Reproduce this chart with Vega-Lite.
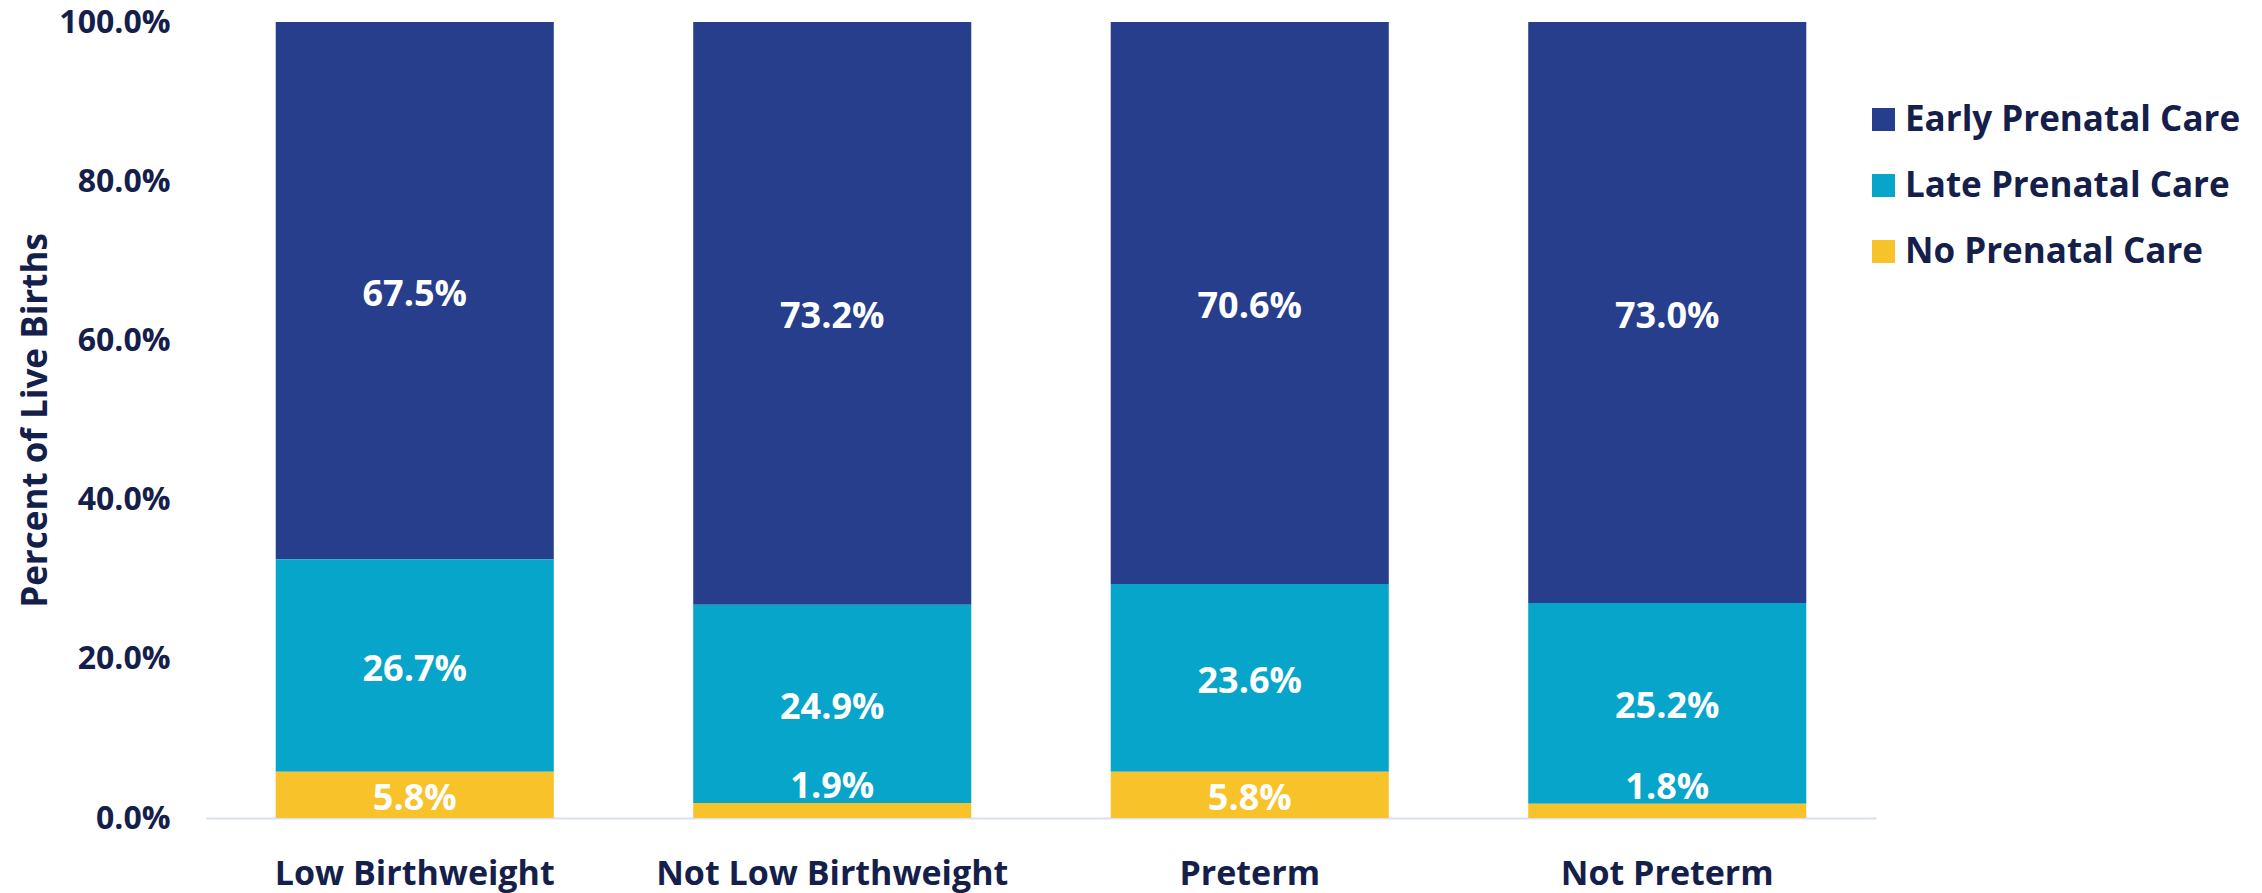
{
  "$schema": "https://vega.github.io/schema/vega-lite/v6.json",
  "width": 1670,
  "height": 796,
  "autosize": {"type": "none"},
  "padding": {"left": 206, "top": 22, "right": 386, "bottom": 75},
  "background": "white",
  "config": {"view": {"stroke": null}, "font": "Open Sans"},
  "data": {
    "values": [
      {"group": "Low Birthweight", "care": "Early Prenatal Care", "pct": 0.675},
      {"group": "Low Birthweight", "care": "Late Prenatal Care", "pct": 0.267},
      {"group": "Low Birthweight", "care": "No Prenatal Care", "pct": 0.058},
      {"group": "Not Low Birthweight", "care": "Early Prenatal Care", "pct": 0.732},
      {"group": "Not Low Birthweight", "care": "Late Prenatal Care", "pct": 0.249},
      {"group": "Not Low Birthweight", "care": "No Prenatal Care", "pct": 0.019},
      {"group": "Preterm", "care": "Early Prenatal Care", "pct": 0.706},
      {"group": "Preterm", "care": "Late Prenatal Care", "pct": 0.236},
      {"group": "Preterm", "care": "No Prenatal Care", "pct": 0.058},
      {"group": "Not Preterm", "care": "Early Prenatal Care", "pct": 0.730},
      {"group": "Not Preterm", "care": "Late Prenatal Care", "pct": 0.252},
      {"group": "Not Preterm", "care": "No Prenatal Care", "pct": 0.018}
    ]
  },
  "encoding": {
    "x": {
      "field": "group",
      "type": "nominal",
      "sort": ["Low Birthweight", "Not Low Birthweight", "Preterm", "Not Preterm"],
      "scale": {"paddingInner": 0.334, "paddingOuter": 0.167},
      "axis": {
        "title": null,
        "labelAngle": 0,
        "labelFontSize": 34,
        "labelFontWeight": "bold",
        "labelColor": "#15204A",
        "labelPadding": 39,
        "labelBaseline": "top",
        "labelLimit": 0,
        "ticks": false,
        "tickSize": 0,
        "domainColor": "#D9DEF2",
        "domainWidth": 2
      }
    },
    "y": {
      "field": "pct",
      "type": "quantitative",
      "stack": "zero",
      "scale": {"domain": [0, 1]},
      "axis": {
        "format": ".1%",
        "values": [0, 0.2, 0.4, 0.6, 0.8, 1],
        "labelFontSize": 32,
        "labelFontWeight": "bold",
        "labelColor": "#15204A",
        "labelPadding": 36,
        "labelOverlap": false,
        "labelFlush": false,
        "ticks": false,
        "tickSize": 0,
        "domain": false,
        "grid": false,
        "title": "Percent of Live Births",
        "titleFontSize": 35,
        "titleFontWeight": "bold",
        "titleColor": "#15204A",
        "titleX": -153,
        "titleY": 398,
        "titleAngle": -90,
        "titleBaseline": "bottom",
        "titleAlign": "center"
      }
    },
    "order": {"field": "care", "sort": "descending"}
  },
  "layer": [
    {
      "mark": {"type": "bar"},
      "encoding": {
        "color": {
          "field": "care",
          "type": "nominal",
          "scale": {
            "domain": ["Early Prenatal Care", "Late Prenatal Care", "No Prenatal Care"],
            "range": ["#263E8C", "#06A5C9", "#F8C22A"]
          },
          "legend": {
            "orient": "none",
            "legendX": 1660,
            "legendY": 80,
            "title": null,
            "symbolType": "square",
            "symbolSize": 529,
            "symbolStrokeWidth": 0,
            "labelFontSize": 35,
            "labelFontWeight": "bold",
            "labelColor": "#15204A",
            "labelLimit": 0,
            "rowPadding": 30,
            "labelOffset": 4,
            "padding": 0
          }
        }
      }
    },
    {
      "mark": {
        "type": "text",
        "color": "white",
        "fontSize": 36,
        "fontWeight": "bold",
        "baseline": "middle",
        "dy": {"expr": "datum.pct < 0.03 ? -23 : 4"}
      },
      "encoding": {
        "y": {"field": "pct", "type": "quantitative", "stack": "zero", "bandPosition": 0.5},
        "text": {"field": "pct", "type": "quantitative", "format": ".1%"}
      }
    }
  ]
}
